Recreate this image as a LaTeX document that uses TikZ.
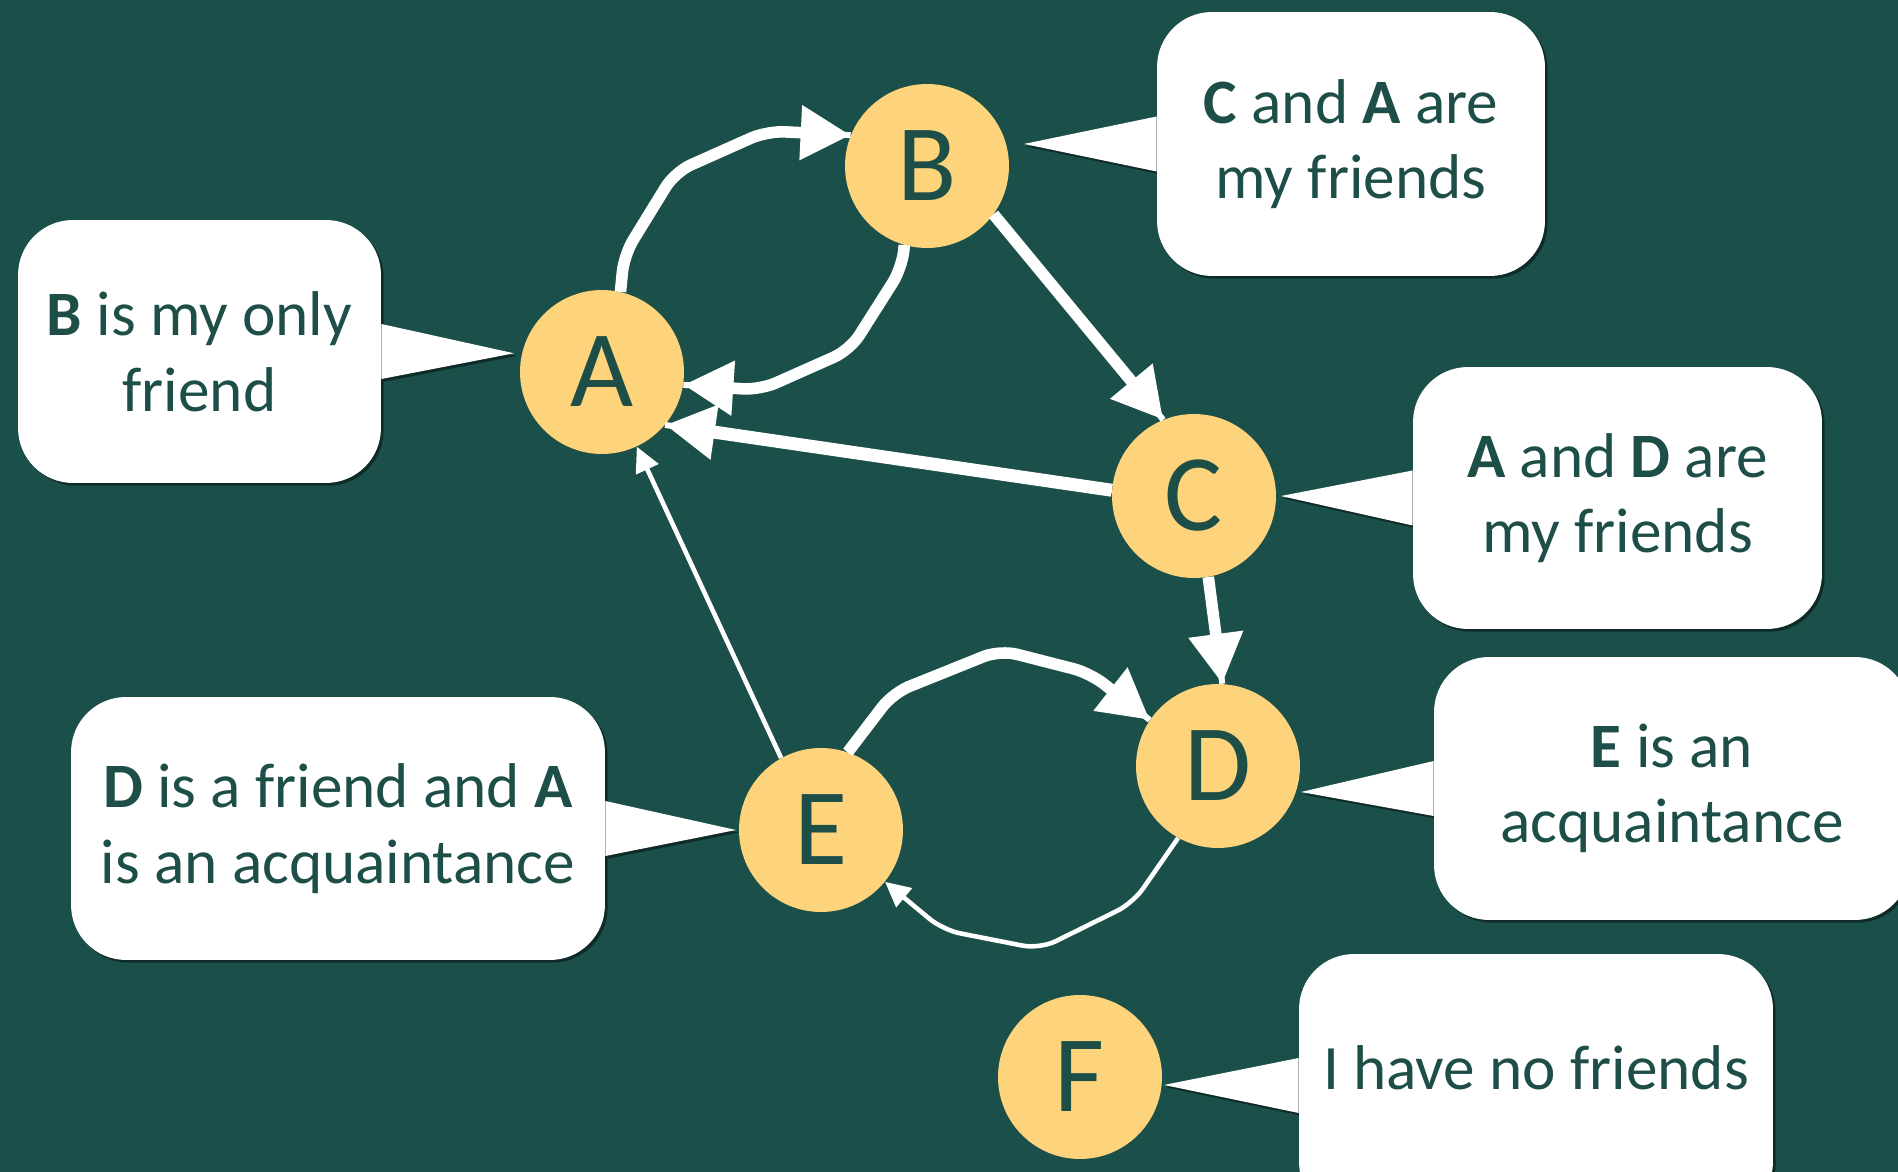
\documentclass[tikz,border=0pt]{standalone}
\usepackage{fontspec}
\setmainfont{Carlito}
\usetikzlibrary{arrows.meta,calc,shadows}
\definecolor{bg}{HTML}{1B4F4A}
\definecolor{ink}{HTML}{1D4E48}
\definecolor{gold}{HTML}{FDD47B}
\pgfdeclarelayer{back}
\pgfdeclarelayer{shade}
\pgfsetlayers{back,shade,main}
\newcommand\bubbletail[2]{%
  \fill[ptr] ($(#1)+(0,-27.5)$) -- (#2) -- ($(#1)+(0,27.5)$) -- cycle;
  \begin{pgfonlayer}{shade}
  \fill[ptrshade] ($(#1)+(0,-27.5)$) -- (#2) -- ($(#1)+(0,27.5)$) -- cycle;
  \end{pgfonlayer}}
\begin{document}
\begin{tikzpicture}[x=0.02cm,y=-0.02cm,
  vert/.style={circle,fill=gold,minimum size=3.28cm,inner sep=0pt,text=ink,font=\fontsize{62}{62}\selectfont},
  bubble/.style={fill=white,rounded corners=1.1cm,inner sep=0pt,text=ink,align=center,
     font=\fontsize{36}{43}\selectfont,
     drop shadow={shadow xshift=1.5pt,shadow yshift=-1.5pt,opacity=0.45,fill=black}},
  ptr/.style={fill=white},
  ptrshade/.style={fill=black,opacity=0.45,transform canvas={xshift=1.5pt,yshift=-1.5pt}},
  big/.style={draw=white,line width=6.6pt,-{Triangle[length=1.0cm,width=1.04cm]},
     postaction={draw=white,line width=3.4pt,arrows=-}},
  bigger/.style={big,line width=7.4pt},
  slim/.style={draw=white,line width=2.6pt,-{Triangle[length=0.5cm,width=0.48cm]}},
  bent/.style={rounded corners=0.35cm},
]
\begin{pgfonlayer}{back}
\fill[bg] (0,0) rectangle (1898,1172);
\end{pgfonlayer}
\useasboundingbox (0,0) rectangle (1898,1172);
\clip (0,0) rectangle (1898,1172);

% vertices
\node[vert] (A) at (602,372) {A};
\node[vert] (B) at (927,166) {B};
\node[vert] (C) at (1194,496) {C};
\node[vert] (D) at (1218,766) {D};
\node[vert] (E) at (821,830) {E};
\node[vert] (F) at (1080,1077) {F};

% speech bubbles
\node[bubble,minimum width=7.26cm,minimum height=5.26cm] (b1) at (199.5,351.5) {\textbf{B} is my only\\friend};
\node[bubble,minimum width=7.76cm,minimum height=5.28cm] (b2) at (1351,144) {\textbf{C} and \textbf{A} are\\my friends};
\node[bubble,minimum width=8.18cm,minimum height=5.24cm] (b3) at (1617.5,498) {\textbf{A} and \textbf{D} are\\my friends};
\node[bubble,minimum width=9.52cm,minimum height=5.26cm] (b4) at (1672,788.5) {\textbf{E} is an\\acquaintance};
\node[bubble,minimum width=10.68cm,minimum height=5.26cm] (b5) at (338,828.5) {\textbf{D} is a friend and \textbf{A}\\is an acquaintance};
\node[bubble,minimum width=9.48cm,minimum height=5.26cm] (b6) at (1536,1085.5) {};
\node[text=ink,font=\fontsize{36}{43}\selectfont] (t6) at (1536,1068) {I have no friends};

% tails
\coordinate (p1) at ($(A.center)+(168:1.8cm)$);
\coordinate (p2) at ($(B.center)+(12.8:1.99cm)$);
\coordinate (p3) at ($(C.center)+(0:1.74cm)$);
\coordinate (p4) at ($(D.center)+(-17.4:1.74cm)$);
\coordinate (p5) at ($(E.center)+(180:1.7cm)$);
\coordinate (p6) at ($(F.center)+(-5.4:1.69cm)$);
\bubbletail{b1.east}{p1}
\bubbletail{b2.west}{p2}
\bubbletail{b3.west}{p3}
\bubbletail{b4.west}{p4}
\bubbletail{b5.east}{p5}
\bubbletail{b6.west}{p6}

% edges
\draw[big,bent] (A.77) -- (624,255) -- (675,172) -- (767,131) -- (B.158);
\draw[big,bent] (B.254) -- (902,268) -- (850,350) -- (760,390) -- (A.-9);
\draw[big] (B.-36) -- (C.112);
\draw[bigger] (C.176) -- (A.-40);
\draw[big] (C.-80) -- (D.87);
\draw[slim] (E.119) -- (A.-65);
\draw[big,bent] (E.71) -- (893,693) -- (1000,650) -- (1090,673) -- (D.146);
\draw[slim,bent] (D.241) -- (1133,903) -- (1040,949) -- (943,930) -- (E.-39);
\end{tikzpicture}
\end{document}
